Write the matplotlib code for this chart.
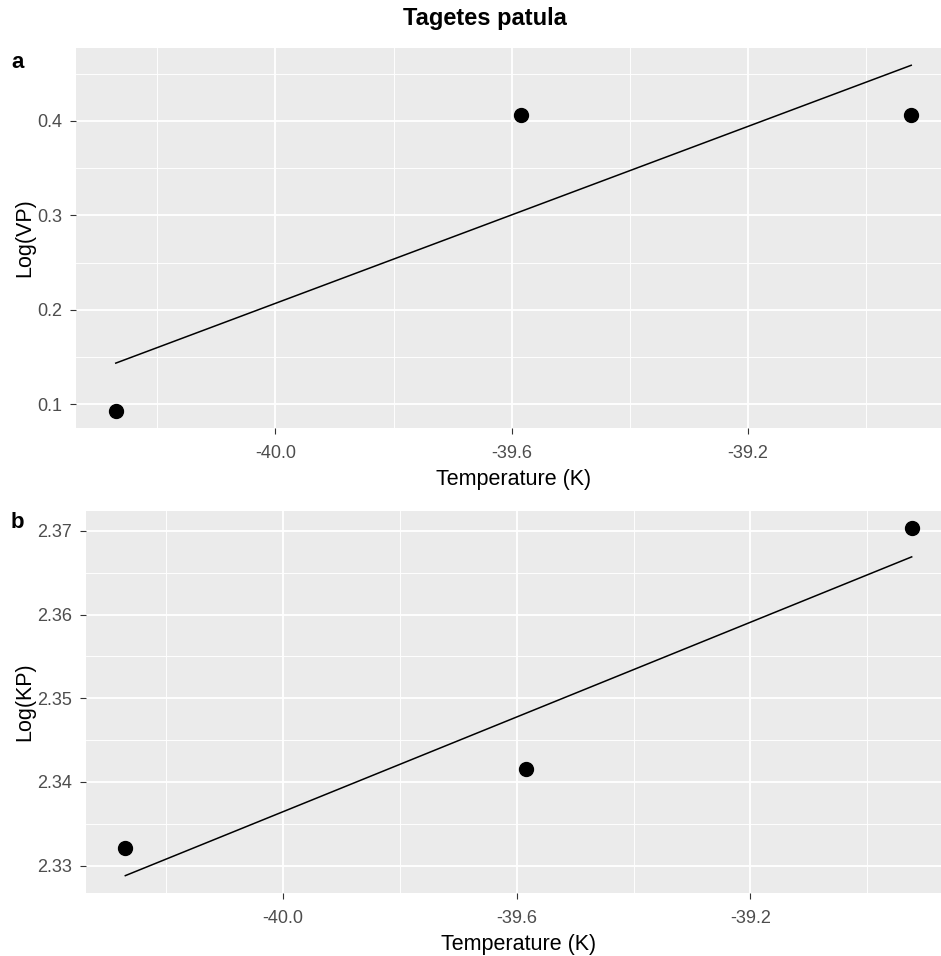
import matplotlib
matplotlib.use('Agg')
import matplotlib.pyplot as plt
import numpy as np

plt.rcParams['font.family'] = ['Liberation Sans', 'DejaVu Sans']
plt.rcParams['axes.unicode_minus'] = False

# data
temperature = [-40.27, -39.585, -38.924]
log_vp = [0.0934, 0.4067, 0.4067]
log_kp = [2.3321, 2.3415, 2.3703]

x_major = [-40.0, -39.6, -39.2]
x_minor = [-40.2, -39.8, -39.4, -39.0]
vp_major = [0.1, 0.2, 0.3, 0.4]
vp_minor = [0.15, 0.25, 0.35, 0.45]
kp_major = [2.33, 2.34, 2.35, 2.36, 2.37]
kp_minor = [2.335, 2.345, 2.355, 2.365]

W, H = 941, 956
fig = plt.figure(figsize=(W / 100, H / 100), dpi=100)
fig.patch.set_facecolor('white')


def px_axes(left, top, right, bottom):
    return fig.add_axes([left / W, 1 - bottom / H, (right - left) / W, (bottom - top) / H])


def panel(ax, x, y, ymajor, yminor, yfmt, ylabel):
    x = np.array(x)
    y = np.array(y)
    slope, icpt = np.polyfit(x, y, 1)
    xf = np.array([x.min(), x.max()])
    yf = slope * xf + icpt

    ax.set_facecolor('#EBEBEB')
    for s in ax.spines.values():
        s.set_visible(False)

    ax.plot(xf, yf, color='black', lw=1.1, zorder=3)
    ax.plot(x, y, 'o', color='black', ms=10, zorder=4)

    ax.set_xticks(x_major)
    ax.set_xticks(x_minor, minor=True)
    ax.set_xticklabels(['%.1f' % v for v in x_major])
    ax.set_yticks(ymajor)
    ax.set_yticks(yminor, minor=True)
    ax.set_yticklabels([yfmt % v for v in ymajor])

    # ggplot style 5% expansion (after ticks, so they don't widen it)
    xlo, xhi = x.min(), x.max()
    ylo, yhi = min(y.min(), yf.min()), max(y.max(), yf.max())
    ax.set_xlim(xlo - 0.05 * (xhi - xlo), xhi + 0.05 * (xhi - xlo))
    ax.set_ylim(ylo - 0.05 * (yhi - ylo), yhi + 0.05 * (yhi - ylo))

    ax.grid(which='major', color='white', lw=1.3)
    ax.grid(which='minor', color='white', lw=0.65)
    ax.set_axisbelow(True)

    ax.tick_params(which='major', length=4, width=0.8, color='#333333',
                   labelsize=13, labelcolor='#4D4D4D', pad=6)
    ax.tick_params(axis='x', which='major', pad=8)
    ax.tick_params(which='minor', length=0)

    ax.set_xlabel('Temperature (K)', fontsize=15.5, labelpad=5)
    ax.set_ylabel(ylabel, fontsize=15.5)


ax_a = px_axes(76, 48, 951, 428)
panel(ax_a, temperature, log_vp, vp_major, vp_minor, '%.1f', 'Log(VP)')
ax_a.yaxis.set_label_coords(35 / W, 1 - 238 / H, transform=fig.transFigure)

ax_b = px_axes(86, 511, 951, 893)
panel(ax_b, temperature, log_kp, kp_major, kp_minor, '%.2f', 'Log(KP)')
ax_b.yaxis.set_label_coords(35 / W, 1 - 702 / H, transform=fig.transFigure)

fig.text(485 / W, 1 - 18 / H, 'Tagetes patula', fontsize=17, fontweight='bold',
         ha='center', va='center')
fig.text(11 / W, 1 - 62 / H, 'a', fontsize=16, fontweight='bold', ha='left', va='center')
fig.text(11 / W, 1 - 522 / H, 'b', fontsize=16, fontweight='bold', ha='left', va='center')

fig.savefig('out.png', dpi=100)
